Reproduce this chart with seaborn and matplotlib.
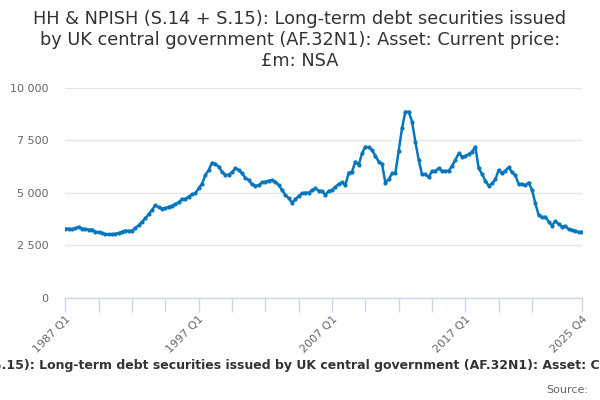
import pandas as pd
import seaborn as sns
import matplotlib.pyplot as plt
from matplotlib.ticker import FuncFormatter

# quarterly values, 1987 Q1 .. 2025 Q4 (£m)
valores = [
    3290, 3290, 3260, 3310, 3380, 3300, 3270, 3250, 3250, 3150,
    3120, 3100, 3020, 3030, 3020, 3050, 3080, 3150, 3200, 3190,
    3190, 3340, 3450, 3630, 3780, 3990, 4180, 4420, 4310, 4250,
    4270, 4340, 4390, 4470, 4550, 4710, 4710, 4820, 4930, 4980,
    5220, 5440, 5850, 6090, 6440, 6380, 6250, 6000, 5850, 5870,
    5980, 6170, 6090, 5930, 5720, 5610, 5400, 5340, 5370, 5500,
    5530, 5580, 5610, 5530, 5370, 5130, 4900, 4740, 4530, 4690,
    4850, 4980, 5010, 5010, 5130, 5220, 5100, 5090, 4900, 5100,
    5130, 5290, 5420, 5500, 5370, 5960, 6010, 6490, 6330, 6880,
    7200, 7170, 7040, 6760, 6490, 6380, 5490, 5640, 5930, 5930,
    7010, 8080, 8870, 8870, 8400, 7440, 6570, 5880, 5880, 5740,
    6040, 6040, 6170, 6040, 6050, 6050, 6280, 6570, 6880, 6730,
    6760, 6840, 6960, 7200, 6170, 5900, 5570, 5340, 5450, 5640,
    6090, 5930, 6060, 6220, 5980, 5850, 5420, 5420, 5370, 5490,
    5140, 4500, 3940, 3830, 3860, 3630, 3430, 3660, 3510, 3390,
    3420, 3260, 3230, 3200, 3120, 3150,
]
trimestres = ["%d Q%d" % (ano, q) for ano in range(1987, 2026) for q in range(1, 5)]
rotulos = ["1987 Q1", "1997 Q1", "2007 Q1", "2017 Q1", "2025 Q4"]
y_ticks = [0, 2500, 5000, 7500, 10000]

titulo = ("HH & NPISH (S.14 + S.15): Long-term debt securities issued\n"
          "by UK central government (AF.32N1): Asset: Current price:\n"
          "£m: NSA")
rodape = ("HH & NPISH (S.14 + S.15): Long-term debt securities issued by UK central "
          "government (AF.32N1): Asset: Current price: £m: NSA")

dados = pd.DataFrame({'Trimestre': trimestres, 'Valor': valores})
dados['pos'] = range(len(dados))

sns.set_style("white")
plt.rcParams['font.family'] = ['DejaVu Sans']

fig = plt.figure(figsize=(6, 4), dpi=100)
ax = fig.add_axes([0.109, 0.2557, 0.861, 0.5243])

sns.lineplot(x='pos', y='Valor', data=dados, ax=ax, color="#0776bd", linewidth=1.8,
             marker='o', markersize=3, markeredgewidth=0, zorder=3)

ax.set_xlim(0, len(dados) - 1)
ax.set_ylim(0, 10000)
ax.set_yticks(y_ticks)
ax.yaxis.set_major_formatter(FuncFormatter(lambda v, p: "{:,.0f}".format(v).replace(",", " ")))
ax.grid(axis='y', color="#e6e6e6", linewidth=1)
ax.set_axisbelow(True)

# ticks every 10 quarters, labels only at the decades + last quarter
posicoes = list(range(0, 150, 10)) + [len(dados) - 1]
nomes = [trimestres[p] if trimestres[p] in rotulos else "" for p in posicoes]
ax.set_xticks(posicoes)
ax.set_xticklabels(nomes, rotation=45, ha='right', rotation_mode='anchor')

for lado in ['left', 'right', 'top']:
    ax.spines[lado].set_visible(False)
ax.spines['bottom'].set_color("#ccd6eb")
ax.spines['bottom'].set_linewidth(1)
ax.tick_params(axis='x', length=10, width=1, color="#ccd6eb", labelsize=8,
               labelcolor="#666666", pad=2, direction='out', bottom=True)
ax.tick_params(axis='y', length=0, labelsize=8, labelcolor="#666666", pad=12)
ax.set_xlabel("")
ax.set_ylabel("")

fig.text(0.5, 0.9, titulo, ha='center', va='center', fontsize=12.75,
         color="#333333", multialignment='center')
# the caption is wider than the figure and is clipped at both sides, as in the original
fig.text(0.5, 1 - 366 / 400, rodape, ha='center', va='center', fontsize=9,
         fontweight='bold', color="#333333")
fig.text(0.98, 1 - 390 / 400, "Source:", ha='right', va='center', fontsize=8,
         color="#666666")

plt.savefig('out.png', dpi=100)
